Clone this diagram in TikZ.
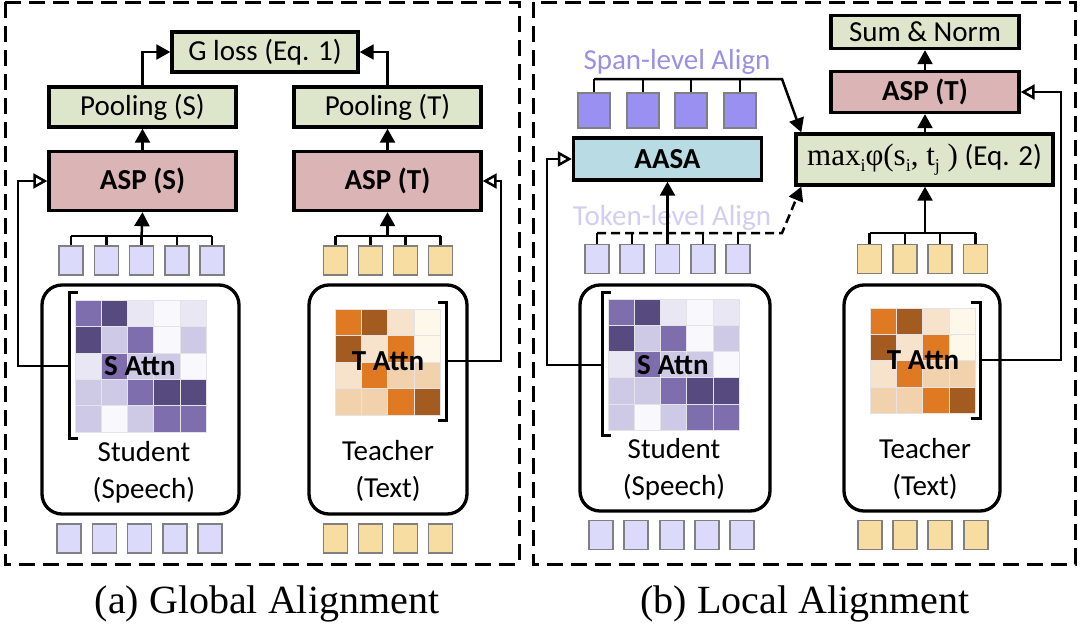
\documentclass[tikz,border=0pt]{standalone}
\usepackage{fontspec}
\setmainfont{Carlito}
\newfontfamily\capfont{Liberation Serif}
\newfontfamily\mathserif{Liberation Serif}
\usetikzlibrary{arrows.meta,calc}
\definecolor{gfill}{HTML}{DDE6CB}
\definecolor{pfill}{HTML}{DBB5B5}
\definecolor{bfill}{HTML}{B9DCE4}
\definecolor{sqS}{HTML}{DCDAFA}
\definecolor{sqT}{HTML}{F8DDA3}
\definecolor{sqSpan}{HTML}{9A90F2}
\definecolor{sqborder}{HTML}{808080}
\definecolor{spantxt}{HTML}{9A90E4}
\definecolor{toktxt}{HTML}{D2CEF0}
\definecolor{gridc}{HTML}{E4E4E8}
\definecolor{SD}{HTML}{574A7E}
\definecolor{SM}{HTML}{7F6EAE}
\definecolor{SL}{HTML}{CEC9E5}
\definecolor{SV}{HTML}{E9E7F4}
\definecolor{SW}{HTML}{F9F8FD}
\definecolor{TO}{HTML}{E07A22}
\definecolor{TB}{HTML}{A45B1F}
\definecolor{TP}{HTML}{F2D2AC}
\definecolor{TL}{HTML}{F7E3CC}
\definecolor{TC}{HTML}{FDF8EA}
\newcommand\drawattn[5]{%
  \foreach \rowlist [count=\ri] in {#5} {%
    \foreach \cc [count=\ki] in \rowlist {%
      \filldraw[fill=\cc,draw=gridc,line width=0.6pt]
        ({#1+(\ki-1)*#3},{#2+(\ri-1)*#4}) rectangle ++(#3,#4);
    }%
  }%
}
\tikzset{
  txt/.style={font=\fontsize{29}{34}\selectfont},
  box/.style={draw=black, line width=3.4pt, inner sep=0pt, txt},
  gbox/.style={box, fill=gfill},
  pbox/.style={box, fill=pfill, font=\fontsize{29}{34}\selectfont\bfseries},
  abox/.style={box, fill=bfill, font=\fontsize{29}{34}\selectfont\bfseries},
  enc/.style={draw=black, line width=3.3pt, rounded corners=20pt, inner sep=0pt},
  sq/.style={draw=sqborder, line width=1.5pt, minimum width=24pt, minimum height=29pt, inner sep=0pt},
  ssq/.style={sq, fill=sqS},
  tsq/.style={sq, fill=sqT},
  spsq/.style={sq, fill=sqSpan, minimum width=32pt, minimum height=35pt},
  bus/.style={line width=2.5pt},
  arr/.style={line width=2.5pt, -{Triangle[length=14pt,width=15pt]}},
  oarr/.style={line width=2.5pt, -{Triangle[open,length=14pt,width=15pt,line width=2.5pt]}},
  panel/.style={line width=3pt, dash pattern=on 16pt off 8pt},
  brk/.style={line width=3pt},
  attnlbl/.style={font=\fontsize{29}{34}\selectfont\bfseries, inner sep=0pt},
  enclbl/.style={font=\fontsize{29}{37}\selectfont, align=center, inner sep=0pt},
  captxt/.style={font=\capfont\fontsize{40}{44}\selectfont, inner sep=0pt},
}
\begin{document}
\begin{tikzpicture}[x=1pt,y=-1pt]
\useasboundingbox (0,0) rectangle (1080,627);
\fill[white] (0,0) rectangle (1080,627);

% ================= LEFT PANEL =================
\draw[panel] (5,2) rectangle (519,564);

\node[gbox, minimum width=186pt, minimum height=40pt] (gl) at (265,52) {G loss (Eq. 1)};
\node[gbox, minimum width=187pt, minimum height=40pt] (poolS) at (142.5,107) {Pooling (S)};
\node[gbox, minimum width=187pt, minimum height=40pt] (poolT) at (387.5,107) {Pooling (T)};
\node[pbox, minimum width=187pt, minimum height=59pt] (aspS) at (142.5,181) {ASP (S)};
\node[pbox, minimum width=187pt, minimum height=59pt] (aspT) at (387.5,181) {ASP (T)};

\draw[arr] (poolS.north) |- (gl.west);
\draw[arr] (poolT.north) |- (gl.east);
\draw[arr] (aspS.north) -- (poolS.south);
\draw[arr] (aspT.north) -- (poolT.south);

% top token squares
\foreach \i/\x in {1/71,2/106.3,3/141.6,4/176.9,5/212.2}
  \node[ssq] (la\i) at (\x,260.5) {};
\foreach \i/\x in {1/335.5,2/370.5,3/405.5,4/440.5}
  \node[tsq] (lb\i) at (\x,260.5) {};
\coordinate (busLS) at (141.6,236);
\coordinate (busLT) at (388,236);
\foreach \i in {1,...,5} \draw[bus] (la\i.north) -- (la\i.north |- busLS);
\draw[bus] (la1.north |- busLS) -- (la5.north |- busLS);
\foreach \i in {1,...,4} \draw[bus] (lb\i.north) -- (lb\i.north |- busLT);
\draw[bus] (lb1.north |- busLT) -- (lb4.north |- busLT);
\draw[arr] (la3.north |- busLS) -- (aspS.south);
\draw[arr] (aspT.south |- busLT) -- (aspT.south);

% encoders
\node[enc, minimum width=197pt, minimum height=229pt] (encLS) at (140.5,399.5) {};
\node[enc, minimum width=158pt, minimum height=229pt] (encLT) at (388,399.5) {};

\drawattn{75}{300}{26.2}{26.4}{{SM,SD,SV,SW,SV},{SD,SL,SM,SW,SL},{SV,SM,SL,SL,SW},{SL,SL,SM,SD,SD},{SL,SW,SL,SM,SM}}
\drawattn{335}{309}{26.3}{26.5}{{TO,TB,TL,TC},{TB,TL,TO,TC},{TL,TO,TP,TP},{TP,TP,TO,TB}}

\draw[brk] (78,292) -- (69,292) -- (69,438) -- (78,438);
\draw[brk] (438,302) -- (446,302) -- (446,420) -- (438,420);
\coordinate (brLS) at (69,366);
\coordinate (brLT) at (446,361);

\node[attnlbl] (attLS) at (140,366) {S Attn};
\node[attnlbl] (attLT) at (388,361) {T Attn};
\node[enclbl] (lblLS) at (144,472) {Student\\(Speech)};
\node[enclbl] (lblLT) at (388,471) {Teacher\\(Text)};

\draw[oarr] (brLS) -- ++(-51,0) |- (aspS.west);
\draw[oarr] (brLT) -- ++(55,0) |- (aspT.east);

% bottom input squares
\foreach \i/\x in {1/69,2/104.3,3/139.6,4/174.9,5/210.2}
  \node[ssq] (lc\i) at (\x,538.5) {};
\foreach \i/\x in {1/335.5,2/370.5,3/405.5,4/440.5}
  \node[tsq] (ld\i) at (\x,538.5) {};

\node[captxt] (capA) at (267,604) {(a) Global Alignment};

% ================= RIGHT PANEL =================
\draw[panel] (533,2) rectangle (1075,564);

\node[gbox, minimum width=188pt, minimum height=33pt] (sn) at (925,32) {Sum \& Norm};
\node[pbox, minimum width=188pt, minimum height=41pt] (aspR) at (925,92) {ASP (T)};
\node[gbox, minimum width=257pt, minimum height=51pt] (mx) at (924.5,159.5)
  {{\mathserif\fontsize{31}{34}\selectfont max\raisebox{-0.2em}{\fontsize{18}{18}\selectfont i}φ(s\raisebox{-0.2em}{\fontsize{18}{18}\selectfont i}, t\raisebox{-0.2em}{\fontsize{18}{18}\selectfont j} )} (Eq. 2)};
\node[abox, minimum width=188pt, minimum height=42pt] (aasa) at (667.5,159) {AASA};

\draw[arr] (aspR.north) -- (sn.south);
\draw[arr] (mx.north -| aspR.south) -- (aspR.south);

% span-level
\node[txt, text=spantxt, inner sep=0pt] (spanlbl) at (677,62) {Span-level Align};
\foreach \i/\x in {1/594,2/643,3/691,4/740}
  \node[spsq] (rs\i) at (\x,110.5) {};
\coordinate (busSpan) at (782,79);
\foreach \i in {1,...,4} \draw[bus] (rs\i.north) -- (rs\i.north |- busSpan);
\coordinate (spanEnd) at ($(mx.north west)+(7,0)$);
\draw[arr] (rs1.north |- busSpan) -- (busSpan) -- (spanEnd);

% token-level
\node[txt, text=toktxt, inner sep=0pt] (toklbl) at (672,218) {Token-level Align};
\foreach \i/\x in {1/597,2/632,3/667.5,4/703,5/738}
  \node[ssq] (ra\i) at (\x,259) {};
\coordinate (busTok) at (782,233);
\foreach \i in {1,...,5} \draw[bus] (ra\i.north) -- (ra\i.north |- busTok);
\coordinate (tokEnd) at ($(mx.south west)+(7,0)$);
\draw[arr, dash pattern=on 9pt off 5pt] (ra1.north |- busTok) -- (busTok) -- (tokEnd);
\draw[arr] (ra3.north |- busTok) -- (aasa.south);

% teacher tokens
\foreach \i/\x in {1/869.5,2/905,3/940,4/975.5}
  \node[tsq] (rb\i) at (\x,259) {};
\coordinate (busRT) at (925,233);
\foreach \i in {1,...,4} \draw[bus] (rb\i.north) -- (rb\i.north |- busRT);
\draw[bus] (rb1.north |- busRT) -- (rb4.north |- busRT);
\draw[arr] (busRT) -- (mx.south -| busRT);

% encoders right
\node[enc, minimum width=190pt, minimum height=226pt] (encRS) at (675,398) {};
\node[enc, minimum width=156pt, minimum height=226pt] (encRT) at (922,398) {};

\drawattn{608}{299}{26.2}{26.2}{{SM,SD,SV,SW,SV},{SD,SL,SM,SW,SL},{SV,SM,SL,SL,SW},{SL,SL,SM,SD,SD},{SL,SW,SL,SM,SM}}
\drawattn{870}{308}{26.3}{26.3}{{TO,TB,TL,TC},{TB,TL,TO,TC},{TL,TO,TP,TP},{TP,TP,TO,TB}}

\draw[brk] (611,292) -- (602,292) -- (602,435) -- (611,435);
\draw[brk] (971,302) -- (980,302) -- (980,418) -- (971,418);
\coordinate (brRS) at (602,365);
\coordinate (brRT) at (980,360);

\node[attnlbl] (attRS) at (673,365) {S Attn};
\node[attnlbl] (attRT) at (923,360) {T Attn};
\node[enclbl] (lblRS) at (674,469) {Student\\(Speech)};
\node[enclbl] (lblRT) at (925,469) {Teacher\\(Text)};

\draw[oarr] (brRS) -- ++(-55,0) |- (aasa.west);
\draw[oarr] (brRT) -- ++(81,0) |- (aspR.east);

\foreach \i/\x in {1/601,2/636,3/672,4/707,5/742}
  \node[ssq] (rc\i) at (\x,535) {};
\foreach \i/\x in {1/870,2/905,3/940,4/976}
  \node[tsq] (rd\i) at (\x,535) {};

\node[captxt] (capB) at (805,604) {(b) Local Alignment};
\end{tikzpicture}
\end{document}
